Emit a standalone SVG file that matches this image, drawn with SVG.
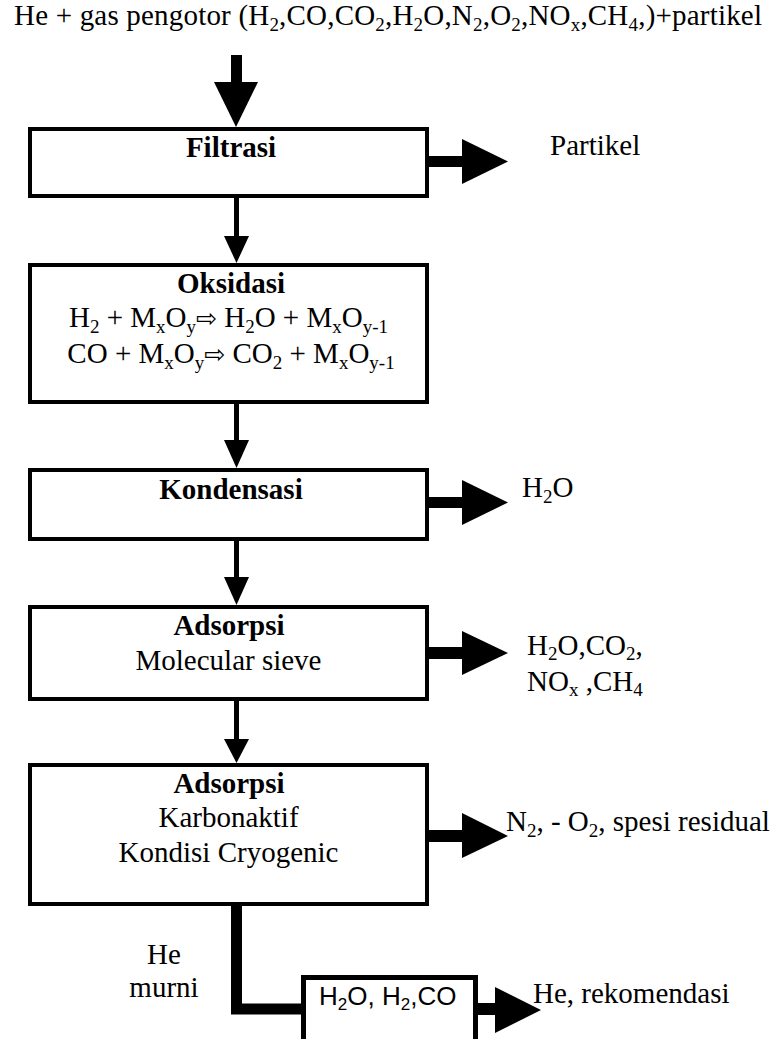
<svg xmlns="http://www.w3.org/2000/svg" width="776" height="1039" viewBox="0 0 776 1039">
<style>
.t{font-family:"Liberation Serif","Times New Roman",serif;font-size:29px;fill:#000}
.b{font-weight:bold}
.s{font-size:19px}
.a{font-family:"Liberation Sans",Arial,sans-serif;font-size:26px;fill:#000}
.sa{font-size:17px}
.ar{font-family:"DejaVu Sans",sans-serif;font-size:25px}
.box{fill:#fff;stroke:#000;stroke-width:4}
.sh{stroke:#000;stroke-width:5;fill:none}
.hd{fill:#000}
</style>
<rect width="776" height="1039" fill="#fff"/>
<text class="t" x="14" y="25" textLength="748" lengthAdjust="spacing">He + gas pengotor (H<tspan class="s" dy="6">2</tspan><tspan dy="-6">,CO,CO</tspan><tspan class="s" dy="6">2</tspan><tspan dy="-6">,H</tspan><tspan class="s" dy="6">2</tspan><tspan dy="-6">O,N</tspan><tspan class="s" dy="6">2</tspan><tspan dy="-6">,O</tspan><tspan class="s" dy="6">2</tspan><tspan dy="-6">,NO</tspan><tspan class="s" dy="6">x</tspan><tspan dy="-6">,CH</tspan><tspan class="s" dy="6">4</tspan><tspan dy="-6">,)+partikel</tspan></text>
<g id="connectors">
<rect x="231" y="55" width="11" height="28" fill="#000"/>
<polygon class="hd" points="214,82 258,82 236,127"/>
<line class="sh" x1="236.5" y1="197" x2="236.5" y2="237"/>
<polygon class="hd" points="224,236 249,236 236.5,263"/>
<line class="sh" x1="236.5" y1="403" x2="236.5" y2="441"/>
<polygon class="hd" points="224,440 249,440 236.5,468"/>
<line class="sh" x1="236.5" y1="540" x2="236.5" y2="578"/>
<polygon class="hd" points="224,577 249,577 236.5,605"/>
<line class="sh" x1="236.5" y1="700" x2="236.5" y2="740"/>
<polygon class="hd" points="224,739 249,739 236.5,763"/>
<rect x="429" y="156" width="34" height="11" fill="#000"/>
<polygon class="hd" points="462,139 508,161.5 462,184"/>
<rect x="429" y="497" width="34" height="11" fill="#000"/>
<polygon class="hd" points="462,480 508,502.5 462,525"/>
<rect x="429" y="647" width="34" height="12" fill="#000"/>
<polygon class="hd" points="462,631 508,653 462,675"/>
<rect x="429" y="830" width="34" height="12" fill="#000"/>
<polygon class="hd" points="462,813 508,836 462,858"/>
<path d="M236.5,906 V1009 H304" stroke="#000" stroke-width="11" fill="none"/>
<rect x="477" y="1003" width="19" height="12" fill="#000"/>
<polygon class="hd" points="495,987 541,1010 495,1033"/>
</g>
<g id="filtrasi">
<rect class="box" x="30" y="129" width="397" height="67"/>
<text class="t b" x="231" y="157" text-anchor="middle">Filtrasi</text>
</g>
<g id="partikel"><text class="t" x="550" y="155">Partikel</text></g>
<g id="oksidasi">
<rect class="box" x="30" y="265" width="397" height="137"/>
<text class="t b" x="231" y="293" text-anchor="middle">Oksidasi</text>
<text class="t" x="228.5" y="327" text-anchor="middle">H<tspan class="s" dy="6">2</tspan><tspan dy="-6"> + M</tspan><tspan class="s" dy="6">x</tspan><tspan dy="-6">O</tspan><tspan class="s" dy="6">y</tspan><tspan class="ar" dy="-6">⇨</tspan><tspan> H</tspan><tspan class="s" dy="6">2</tspan><tspan dy="-6">O + M</tspan><tspan class="s" dy="6">x</tspan><tspan dy="-6">O</tspan><tspan class="s" dy="6">y-1</tspan></text>
<text class="t" x="231" y="363" text-anchor="middle">CO + M<tspan class="s" dy="6">x</tspan><tspan dy="-6">O</tspan><tspan class="s" dy="6">y</tspan><tspan class="ar" dy="-6">⇨</tspan><tspan> CO</tspan><tspan class="s" dy="6">2</tspan><tspan dy="-6"> + M</tspan><tspan class="s" dy="6">x</tspan><tspan dy="-6">O</tspan><tspan class="s" dy="6">y-1</tspan></text>
</g>
<g id="kondensasi">
<rect class="box" x="30" y="470" width="397" height="69"/>
<text class="t b" x="231" y="499" text-anchor="middle">Kondensasi</text>
</g>
<g id="h2o"><text class="t" x="522" y="497">H<tspan class="s" dy="6">2</tspan><tspan dy="-6">O</tspan></text></g>
<g id="adsorpsi1">
<rect class="box" x="30" y="607" width="397" height="92"/>
<text class="t b" x="229" y="635" text-anchor="middle">Adsorpsi</text>
<text class="t" x="228.5" y="670" text-anchor="middle">Molecular sieve</text>
</g>
<g id="out1">
<text class="t" x="527" y="655">H<tspan class="s" dy="5">2</tspan><tspan dy="-5">O,CO</tspan><tspan class="s" dy="5">2</tspan><tspan dy="-5">,</tspan></text>
<text class="t" x="527" y="691">NO<tspan class="s" dy="5">x</tspan><tspan dy="-5"> ,CH</tspan><tspan class="s" dy="5">4</tspan></text>
</g>
<g id="adsorpsi2">
<rect class="box" x="30" y="765" width="397" height="139"/>
<text class="t b" x="229" y="793" text-anchor="middle">Adsorpsi</text>
<text class="t" x="228.5" y="827" text-anchor="middle">Karbonaktif</text>
<text class="t" x="228.5" y="862" text-anchor="middle">Kondisi Cryogenic</text>
</g>
<g id="out2">
<text class="t" x="506" y="831">N<tspan class="s" dy="6">2</tspan><tspan dy="-6">, - O</tspan><tspan class="s" dy="6">2</tspan><tspan dy="-6">, spesi residual</tspan></text>
</g>
<g id="hemurni">
<text class="t" x="164" y="964" text-anchor="middle">He</text>
<text class="t" x="164" y="997" text-anchor="middle">murni</text>
</g>
<g id="final">
<rect x="303.5" y="977.5" width="172" height="80" fill="#fff" stroke="#000" stroke-width="5"/>
<text class="a" x="319" y="1005">H<tspan class="sa" dy="5">2</tspan><tspan dy="-5">O, H</tspan><tspan class="sa" dy="5">2</tspan><tspan dy="-5">,CO</tspan></text>
</g>
<g id="out3"><text class="t" x="533" y="1003">He, rekomendasi</text></g>
</svg>
